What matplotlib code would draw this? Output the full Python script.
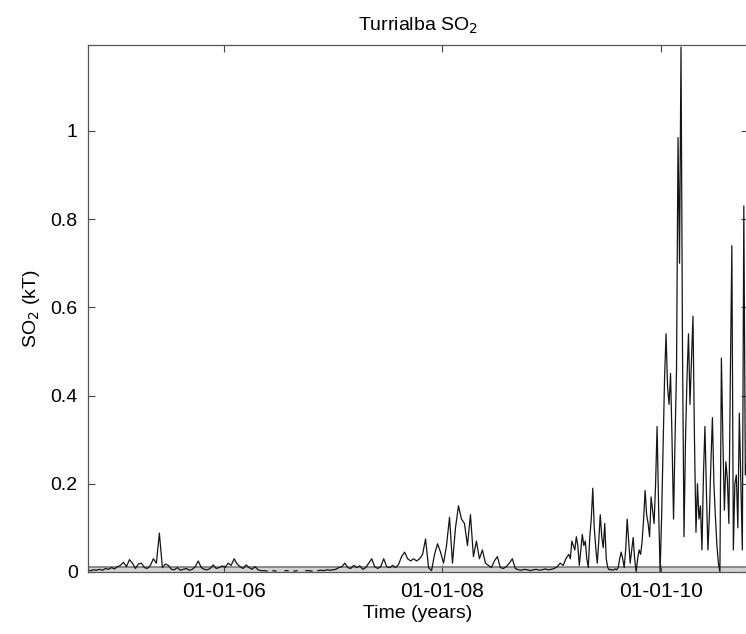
import numpy as np
import pandas as pd
import matplotlib
matplotlib.use("Agg")
import matplotlib.pyplot as plt

# SO2 mass (kT)
# part 1: one reading every 10 days from 2004-10-02
start_1 = "2004-10-02"
so2_2004_2005 = [0.004, 0.003, 0.005, 0.004, 0.006, 0.004, 0.008, 0.006, 0.010, 0.007,
                 0.012, 0.015, 0.022, 0.012, 0.028, 0.020, 0.008, 0.018, 0.020, 0.010,
                 0.008, 0.015, 0.030, 0.020, 0.088, 0.010, 0.018, 0.015, 0.006, 0.005,
                 0.010, 0.004, 0.006, 0.008, 0.004, 0.006, 0.012, 0.025, 0.010, 0.006,
                 0.005, 0.008, 0.016, 0.008, 0.010]
so2_2006_2007 = [0.014, 0.010, 0.020, 0.015, 0.030, 0.018, 0.012, 0.008, 0.016, 0.010,
                 0.006, 0.012, 0.005, 0.003, 0.003, 0.002, np.nan, 0.003, 0.002, np.nan,
                 np.nan, 0.003, 0.003, np.nan, 0.002, 0.003, np.nan, np.nan, 0.003, 0.003,
                 0.002, np.nan, 0.003, 0.004, 0.003, 0.005, 0.004, 0.005, 0.006, 0.010,
                 0.012, 0.020, 0.010, 0.008, 0.015, 0.010, 0.014, 0.006, 0.010, 0.020,
                 0.030, 0.012, 0.008, 0.012, 0.030, 0.012, 0.010, 0.015, 0.010, 0.018,
                 0.035, 0.045, 0.030, 0.025]
so2_2008 = [0.030, 0.025, 0.030, 0.040, 0.075, 0.010, 0.003, 0.040, 0.064, 0.045,
            0.020, 0.060, 0.124, 0.020, 0.100, 0.150, 0.120, 0.110, 0.060, 0.130,
            0.035, 0.070, 0.030, 0.050, 0.020, 0.015, 0.010, 0.025, 0.035, 0.010,
            0.008, 0.012, 0.020, 0.030, 0.008, 0.005, 0.004, 0.006, 0.005, 0.003,
            0.005, 0.006, 0.004, 0.005, 0.007, 0.005, 0.006, 0.008, 0.012, 0.020,
            0.015]

# part 2: one reading every 5 days from 2009-02-17
start_2 = "2009-02-17"
so2_2009 = [0.030, 0.035, 0.040, 0.030, 0.070, 0.060, 0.050, 0.080, 0.060, 0.015,
            0.050, 0.085, 0.060, 0.070, 0.030, 0.010, 0.080, 0.120, 0.190, 0.100,
            0.055, 0.020, 0.070, 0.130, 0.080, 0.055, 0.110, 0.030, 0.010, 0.005,
            0.006, 0.004, 0.005, 0.007, 0.005, 0.010, 0.030, 0.045, 0.030, 0.010,
            0.050, 0.120, 0.070, 0.020, 0.050, 0.078, 0.030, 0.000, 0.030, 0.050,
            0.040, 0.070, 0.120, 0.185, 0.130, 0.110, 0.080, 0.170, 0.140, 0.110,
            0.200, 0.330, 0.150]
so2_2010 = [0.000, 0.120, 0.280, 0.440, 0.540, 0.420, 0.380, 0.450, 0.300, 0.120,
            0.300, 0.460, 0.985, 0.700, 1.190, 0.500, 0.080, 0.300, 0.440, 0.540,
            0.380, 0.480, 0.580, 0.300, 0.090, 0.200, 0.120, 0.150, 0.050, 0.220,
            0.330, 0.180, 0.050, 0.130, 0.250, 0.350, 0.200, 0.125, 0.060, 0.020,
            0.000, 0.485, 0.300, 0.140, 0.250, 0.210, 0.110, 0.450, 0.740, 0.050,
            0.200, 0.220, 0.100, 0.360, 0.200, 0.050, 0.830, 0.220, 0.250]

part_1 = so2_2004_2005 + so2_2006_2007 + so2_2008
part_2 = so2_2009 + so2_2010
dates = pd.date_range(start_1, periods=len(part_1), freq="10D").append(
    pd.date_range(start_2, periods=len(part_2), freq="5D"))
so2 = part_1 + part_2

tick_dates = pd.to_datetime(["2006-01-01", "2008-01-01", "2010-01-01"])
tick_labels = ["01-01-06", "01-01-08", "01-01-10"]
noise_level = 0.011

plt.rcParams["font.family"] = ["Liberation Sans", "DejaVu Sans"]

fig = plt.figure(figsize=(7.46, 6.34), dpi=100)
ax = fig.add_axes([0.1174, 0.0978, 0.8857, 0.8313])

ax.axhspan(0, noise_level, color="#d2d2d2", lw=0)
ax.axhline(noise_level, color="#7a7a7a", lw=1.2)
ax.plot(dates, so2, color="#151515", lw=0.9)

ax.set_xlim(pd.Timestamp("2004-10-02"), pd.Timestamp("2010-10-20"))
ax.set_ylim(0, 1.195)
ax.set_xticks(tick_dates)
ax.set_xticklabels(tick_labels)
ax.set_yticks([0, 0.2, 0.4, 0.6, 0.8, 1])
ax.set_yticklabels(["0", "0.2", "0.4", "0.6", "0.8", "1"])
ax.tick_params(direction="in", top=True, right=True, length=5, width=0.8,
               labelsize=14, pad=7, color="#444444")
ax.tick_params(axis="x", labelsize=15)

for s in ax.spines.values():
    s.set_color("#555555")
    s.set_linewidth(0.9)

ax.set_title("Turrialba SO$_2$", fontsize=14, pad=10)
ax.set_xlabel("Time (years)", fontsize=14, labelpad=3)
ax.set_ylabel("SO$_2$ (kT)", fontsize=14, labelpad=6)

fig.savefig("out.png", dpi=100)
